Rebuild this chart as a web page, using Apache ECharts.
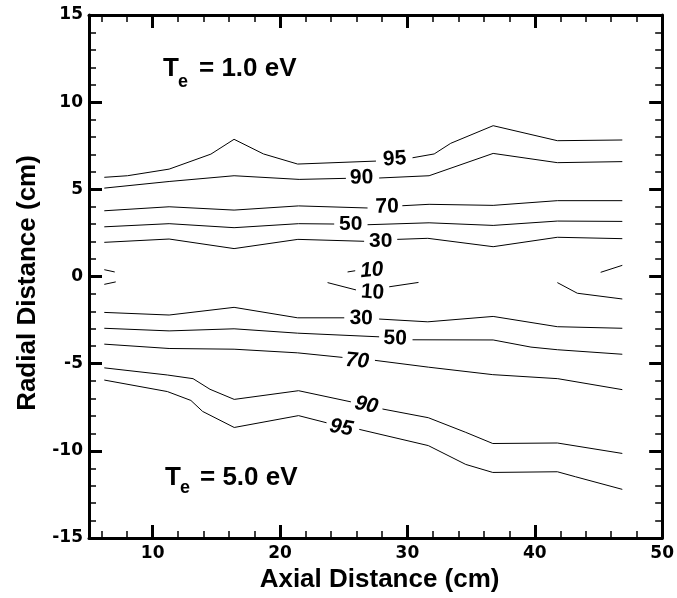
<!DOCTYPE html>
<html>
<head>
<meta charset="utf-8">
<script src="https://cdn.jsdelivr.net/npm/echarts@6/dist/echarts.min.js"></script>
<style>
  html, body { margin: 0; padding: 0; background: #fff; }
  #chart { width: 677px; height: 598px; }
</style>
</head>
<body>
<div id="chart"></div>
<script>
// contour lines, each one split into pieces where its label sits
const top95 = [
  [[6.2, 5.69], [8.02, 5.78], [11.29, 6.16], [14.57, 7.02], [16.39, 7.87], [18.7, 7.03], [21.38, 6.45], [27.53, 6.62]],
  [[30.4, 6.81], [32.1, 7.03], [33.4, 7.64], [36.73, 8.65], [41.77, 7.79], [46.87, 7.83]]
]
const top90 = [
  [[6.2, 5.07], [11.29, 5.45], [16.39, 5.78], [21.5, 5.57], [25.17, 5.63]],
  [[27.78, 5.65], [31.7, 5.78], [36.73, 7.06], [41.77, 6.53], [46.87, 6.59]]
]
const top70 = [
  [[6.2, 3.77], [11.29, 4.0], [16.39, 3.81], [21.45, 4.05], [26.87, 3.93]],
  [[29.6, 4.06], [31.7, 4.14], [36.73, 4.08], [41.77, 4.35], [46.87, 4.35]]
]
const top50 = [
  [[6.2, 2.85], [11.29, 3.03], [16.39, 2.8], [21.45, 3.03], [24.25, 3.01]],
  [[26.87, 2.97], [31.7, 3.08], [36.73, 2.93], [41.77, 3.18], [46.87, 3.16]]
]
const top30 = [
  [[6.2, 1.96], [11.29, 2.15], [16.39, 1.6], [21.4, 2.13], [26.6, 2.02]],
  [[29.2, 2.13], [31.6, 2.19], [36.73, 1.71], [41.77, 2.25], [46.87, 2.17]]
]
const top10 = [
  [[6.2, 0.39], [7.02, 0.26]],
  [[25.3, 0.26], [25.9, 0.33]],
  [[45.17, 0.24], [46.87, 0.64]]
]
const bot10 = [
  [[6.2, -0.45], [7.1, -0.31]],
  [[23.73, -0.35], [25.96, -0.77]],
  [[28.57, -0.59], [30.87, -0.34]],
  [[41.77, -0.35], [43.34, -0.96], [46.87, -1.29]]
]
const bot30 = [
  [[6.2, -2.06], [11.29, -2.21], [16.39, -1.77], [21.38, -2.37], [25.04, -2.37]],
  [[27.78, -2.44], [31.6, -2.6], [36.73, -2.29], [41.77, -2.88], [46.87, -2.97]]
]
const bot50 = [
  [[6.2, -2.97], [11.29, -3.12], [16.39, -3.0], [21.38, -3.25], [27.78, -3.46]],
  [[30.4, -3.63], [36.73, -3.64], [39.7, -4.05], [41.77, -4.2], [46.87, -4.46]]
]
const bot70 = [
  [[6.2, -3.88], [11.29, -4.13], [16.39, -4.17], [21.38, -4.38], [24.9, -4.64]],
  [[27.45, -4.81], [31.64, -5.2], [36.7, -5.63], [41.8, -5.86], [46.87, -6.49]]
]
const bot90 = [
  [[6.2, -5.24], [11.15, -5.65], [13.17, -5.86], [14.5, -6.47], [16.4, -7.05], [21.45, -6.55], [25.56, -7.19]],
  [[28.04, -7.6], [31.64, -8.1], [34.58, -8.94], [36.7, -9.58], [41.77, -9.55], [46.87, -10.15]]
]
const bot95 = [
  [[6.2, -5.94], [11.15, -6.6], [13.0, -7.11], [13.92, -7.74], [16.4, -8.66], [21.45, -7.98], [23.65, -8.39]],
  [[26.22, -8.77], [31.64, -9.7], [34.58, -10.78], [36.7, -11.24], [41.77, -11.2], [43.21, -11.49], [46.87, -12.21]]
]

// contour labels: x, y, text
const contourLabels = [
  [29.0, 6.74, '95'],
  [26.4, 5.66, '90'],
  [28.4, 4.0, '70'],
  [25.55, 2.99, '50'],
  [27.9, 2.03, '30'],
  [27.2, 0.35, '10'],
  [27.26, -0.92, '10'],
  [26.37, -2.4, '30'],
  [29.04, -3.55, '50'],
  [26.06, -4.85, '70'],
  [26.77, -7.38, '90'],
  [24.8, -8.68, '95']
]
const labelRotate = [3, 1, 1, 0, 0, 5, -4, -1, -2, -5, -12, -10]
const labelItalic = [0, 0, 0, 0, 0, 1, 0, 0, 0, 1, 1, 1]

const xRange = [5, 50]
const yRange = [-15, 15]

const tickFont = 'DejaVu Sans'
const textFont = 'Liberation Sans'

const contours = [top95, top90, top70, top50, top30, top10, bot10, bot30, bot50, bot70, bot90, bot95]
const series = []
contours.forEach(c => {
  c.forEach(seg => {
    series.push({
      type: 'line',
      data: seg,
      symbol: 'none',
      silent: true,
      lineStyle: { color: '#000', width: 1 }
    })
  })
})
series.push({
  type: 'scatter',
  symbolSize: 0,
  silent: true,
  itemStyle: { opacity: 1, color: '#000' },
  data: contourLabels.map((l, i) => ({
    value: [l[0], l[1]],
    name: l[2],
    label: {
      rotate: labelRotate[i],
      fontStyle: labelItalic[i] ? 'italic' : 'normal'
    }
  })),
  label: {
    show: true,
    position: 'inside',
    formatter: p => p.name,
    fontFamily: textFont,
    fontWeight: 'bold',
    fontSize: 21,
    color: '#000',
    opacity: 1,
    textBorderWidth: 0
  }
})

const axisLine = { show: true, onZero: false, lineStyle: { color: '#000', width: 3 } }
const majorTick = { show: true, inside: true, length: 13, lineStyle: { color: '#000', width: 3 } }
const minorTick = { show: true, splitNumber: 5, length: 7, lineStyle: { color: '#000', width: 1.5 } }

const bigText = (txt, x, y, size) => ({
  type: 'text',
  x: x,
  y: y,
  style: {
    text: txt,
    fontFamily: textFont,
    fontWeight: 'bold',
    fontSize: size,
    fill: '#000',
    verticalAlign: 'middle'
  }
})

const option = {
  animation: false,
  grid: { left: 89, right: 14, top: 15, bottom: 60, containLabel: false },
  xAxis: [
    {
      type: 'value',
      min: xRange[0],
      max: xRange[1],
      position: 'bottom',
      name: 'Axial Distance (cm)',
      nameLocation: 'middle',
      nameGap: 24,
      nameTextStyle: { fontFamily: textFont, fontWeight: 'bold', fontSize: 26, color: '#000', padding: [0, 0, 0, 8] },
      axisLine: axisLine,
      axisTick: majorTick,
      minorTick: minorTick,
      splitLine: { show: false },
      axisLabel: {
        margin: 7,
        fontFamily: tickFont,
        fontWeight: 'bold',
        fontSize: 17,
        color: '#000',
        formatter: v => (v % 10 === 0 ? String(v) : '')
      }
    },
    {
      type: 'value',
      min: xRange[0],
      max: xRange[1],
      position: 'top',
      axisLine: axisLine,
      axisTick: majorTick,
      minorTick: minorTick,
      splitLine: { show: false },
      axisLabel: { show: false }
    }
  ],
  yAxis: [
    {
      type: 'value',
      min: yRange[0],
      max: yRange[1],
      interval: 5,
      position: 'left',
      name: 'Radial Distance (cm)',
      nameLocation: 'middle',
      nameGap: 48,
      nameTextStyle: { fontFamily: textFont, fontWeight: 'bold', fontSize: 26, color: '#000', padding: [0, 13, 0, 0] },
      axisLine: axisLine,
      axisTick: majorTick,
      minorTick: minorTick,
      splitLine: { show: false },
      axisLabel: {
        margin: 6,
        fontFamily: tickFont,
        fontWeight: 'bold',
        fontSize: 17,
        color: '#000'
      }
    },
    {
      type: 'value',
      min: yRange[0],
      max: yRange[1],
      interval: 5,
      position: 'right',
      axisLine: axisLine,
      axisTick: majorTick,
      minorTick: minorTick,
      splitLine: { show: false },
      axisLabel: { show: false }
    }
  ],
  graphic: [
    bigText('T', 163, 68.5, 26),
    bigText('e', 178, 82, 18),
    bigText('= 1.0 eV', 199, 68.5, 26),
    bigText('T', 165, 477.5, 26),
    bigText('e', 180, 488, 18),
    bigText('= 5.0 eV', 200, 477.5, 26)
  ],
  series: series
}

const myChart = echarts.init(document.getElementById('chart'))
myChart.setOption(option)
</script>
</body>
</html>
